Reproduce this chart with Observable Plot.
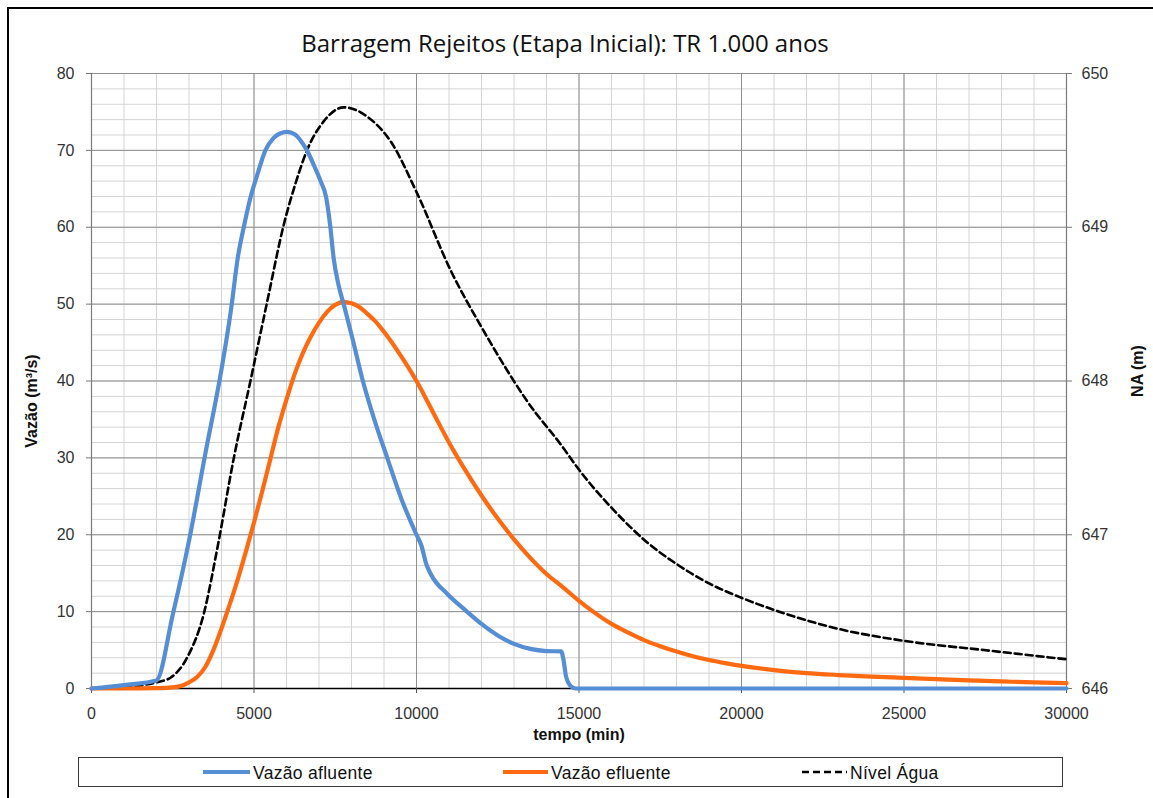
<!DOCTYPE html>
<html><head><meta charset="utf-8">
<script src="https://cdn.jsdelivr.net/npm/d3@7"></script>
<script src="https://cdn.jsdelivr.net/npm/@observablehq/plot@0.6"></script>
<style>
html,body{margin:0;padding:0;background:#fff;}
#wrap{position:relative;width:1153px;height:798px;overflow:hidden;background:#fff;}
#frame{position:absolute;left:7px;top:7px;width:1300px;height:900px;border-left:2px solid #000;border-top:2px solid #000;}
#title{position:absolute;left:0;top:31px;width:1130px;text-align:center;font-family:"Open Sans",sans-serif;font-size:24px;line-height:24px;color:#111;white-space:nowrap;}
#chart{position:absolute;left:0;top:60px;}
#legend{position:absolute;left:78px;top:757px;width:983px;height:28px;border:1.5px solid #3a3a3a;}
.lg{position:absolute;top:0;height:28px;}
.lt{position:absolute;top:5px;font-family:"Liberation Sans",Arial,sans-serif;font-size:17.5px;letter-spacing:0.3px;color:#111;white-space:nowrap;}
</style></head>
<body>
<div id="wrap">
  <div id="frame"></div>
  <div id="title">Barragem Rejeitos (Etapa Inicial): TR 1.000 anos</div>
  <div id="chart"></div>
  <div id="legend"></div>
</div>
<script>
// ---- data ----
const afluenteT = [0, 1000, 2000, 2500, 3000, 3500, 4000, 4300, 4500, 4700, 4900, 5100, 5350, 5600, 5800, 6020, 6250, 6450, 6630, 6850, 7050, 7220, 7350, 7450, 7600, 7760, 8020, 8350, 8700, 9100, 9550, 10000, 10150, 10300, 10450, 10950, 11500, 12000, 12500, 13000, 13500, 14000, 14450, 14520, 14600, 14750, 14900, 20000, 25000, 30000];
const afluenteQ = [0, 0.45, 1.05, 9.6, 19.2, 30.5, 41.5, 49.5, 56, 60.3, 64, 66.8, 70, 71.6, 72.2, 72.4, 72.1, 71.2, 70, 68, 66, 63.9, 60, 56, 52.5, 50, 45.7, 40, 35, 30, 24.5, 20, 18.6, 16.2, 14.8, 12.3, 10.2, 8.4, 6.9, 5.8, 5.15, 4.87, 4.82, 3.8, 1.6, 0.3, 0, 0, 0, 0];

const efluenteT = [0, 1000, 2000, 2500, 2800, 3000, 3250, 3500, 3750, 4000, 4250, 4500, 4750, 5000, 5250, 5500, 5750, 6000, 6250, 6500, 6750, 7000, 7250, 7500, 7750, 8000, 8250, 8500, 8750, 9000, 9500, 10000, 10500, 11000, 11500, 12000, 12500, 13000, 13500, 14000, 14500, 15000, 15500, 16000, 16500, 17000, 17500, 18000, 18500, 19000, 19500, 20000, 21000, 22000, 23000, 24000, 25000, 26000, 27000, 28000, 29000, 30000];
const efluenteQ = [0, 0, 0.05, 0.15, 0.4, 0.8, 1.5, 2.8, 5.0, 7.8, 10.9, 14.2, 17.8, 21.6, 25.6, 29.8, 34.0, 37.6, 40.9, 43.6, 45.8, 47.6, 49.0, 49.9, 50.3, 50.1, 49.6, 48.7, 47.7, 46.4, 43.4, 40.0, 36.0, 32.0, 28.4, 25.1, 22.1, 19.4, 17.0, 14.9, 13.2, 11.4, 9.8, 8.4, 7.3, 6.3, 5.5, 4.8, 4.2, 3.7, 3.3, 2.95, 2.4, 2.0, 1.75, 1.55, 1.39, 1.22, 1.05, 0.92, 0.8, 0.69];

const nivelT = [0, 1000, 2000, 2430, 2940, 3460, 3870, 4380, 4890, 5410, 5920, 6300, 6630, 7150, 7760, 8480, 9200, 10020, 11050, 12000, 12700, 13400, 14500, 14940, 16070, 17100, 18000, 18940, 20000, 21300, 22940, 25000, 27460, 30000];
const nivelNA = [646, 646.01, 646.04, 646.07, 646.2, 646.49, 646.91, 647.5, 648.0, 648.52, 649.02, 649.3, 649.5, 649.69, 649.78, 649.72, 649.56, 649.22, 648.72, 648.35, 648.1, 647.87, 647.57, 647.44, 647.16, 646.95, 646.81, 646.69, 646.59, 646.49, 646.39, 646.31, 646.25, 646.19];

const xTicks = [0, 5000, 10000, 15000, 20000, 25000, 30000];
const yTicks = [0, 10, 20, 30, 40, 50, 60, 70, 80];
const naTicks = [646, 647, 648, 649, 650];
const seriesNames = ["Vazão afluente", "Vazão efluente", "Nível Água"];
const title = "Barragem Rejeitos (Etapa Inicial): TR 1.000 anos";

// ---- helpers ----
const NA0 = 646, NAperQ = 20; // right axis 646–650 mapped onto 0–80
const afl = afluenteT.map((t, i) => ({t, q: afluenteQ[i]}));
const efl = efluenteT.map((t, i) => ({t, q: efluenteQ[i]}));
const niv = nivelT.map((t, i) => ({t, m: nivelNA[i]}));

const blue = "#558ED5", orange = "#FF6A10";
const minorX = d3.range(0, 30001, 1000), minorY = d3.range(0, 81, 2);

const chart = Plot.plot({
  width: 1153,
  height: 690,
  marginLeft: 91,
  marginRight: 87,
  marginTop: 13,
  marginBottom: 62,
  style: {fontFamily: "Liberation Sans, Arial, sans-serif", fontSize: "16px", background: "transparent", overflow: "visible"},
  x: {domain: [0, 30000]},
  y: {domain: [0, 80]},
  marks: [
    Plot.ruleX(minorX, {stroke: "#d4d4d4", strokeWidth: 1}),
    Plot.ruleY(minorY, {stroke: "#d4d4d4", strokeWidth: 1}),
    Plot.ruleX(xTicks, {stroke: "#8f8f8f", strokeWidth: 1}),
    Plot.ruleY(yTicks, {stroke: "#8f8f8f", strokeWidth: 1}),
    Plot.ruleX([0, 30000], {stroke: "#7a7a7a", strokeWidth: 1.2}),
    Plot.ruleY([0], {stroke: "#000", strokeWidth: 1.3}),
    Plot.axisX({ticks: xTicks, tickSize: 5, tickPadding: 14, tickFormat: d => String(d), stroke: "#555", fill: "#333", label: null}),
    Plot.axisY({ticks: yTicks, tickSize: 5, tickPadding: 12, tickFormat: d => String(d), stroke: "#777", fill: "#333", label: null}),
    Plot.axisY({anchor: "right", ticks: naTicks.map(v => (v - NA0) * NAperQ), tickSize: 5, tickPadding: 10, tickFormat: d => String(NA0 + d / NAperQ), stroke: "#777", fill: "#333", label: null}),
    Plot.line(niv, {x: "t", y: d => (d.m - NA0) * NAperQ, stroke: "#000", strokeWidth: 2.6, strokeDasharray: "7,4", curve: "monotone-x"}),
    Plot.line(efl, {x: "t", y: "q", stroke: orange, strokeWidth: 4.2, curve: "monotone-x"}),
    Plot.line(afl, {x: "t", y: "q", stroke: blue, strokeWidth: 4.2, curve: "monotone-x"}),
    Plot.text(["tempo (min)"], {frameAnchor: "bottom", dy: 51, text: d => d, textAnchor: "middle", fontWeight: "bold", fontSize: 16, fill: "#111", letterSpacing: "0.5px"}),
    Plot.text(["Vazão (m³/s)"], {frameAnchor: "left", dx: -60, dy: 20, rotate: -90, text: d => d, textAnchor: "middle", fontWeight: "bold", fontSize: 16, fill: "#111", letterSpacing: "0.6px"}),
    Plot.text(["NA (m)"], {frameAnchor: "right", dx: 71, dy: -10, rotate: -90, text: d => d, textAnchor: "middle", fontWeight: "bold", fontSize: 16, fill: "#111", letterSpacing: "0.6px"})
  ]
});
document.getElementById("chart").appendChild(chart);
document.getElementById("title").textContent = title;

// ---- legend ----
const legend = document.getElementById("legend");
const items = [
  {name: seriesNames[0], x0: 124, x1: 171, color: blue, w: 4.2, dash: null},
  {name: seriesNames[1], x0: 424, x1: 469, color: orange, w: 4.2, dash: null},
  {name: seriesNames[2], x0: 723, x1: 768, color: "#000", w: 2.6, dash: "7,4"}
];
items.forEach(it => {
  const s = d3.create("svg").attr("class", "lg").attr("width", it.x1 - it.x0 + 2).attr("height", 28)
    .style("left", (it.x0 - 1) + "px");
  s.append("line").attr("x1", 1).attr("x2", it.x1 - it.x0 + 1).attr("y1", 14).attr("y2", 14)
    .attr("stroke", it.color).attr("stroke-width", it.w).attr("stroke-dasharray", it.dash);
  legend.appendChild(s.node());
  const sp = document.createElement("span");
  sp.className = "lt"; sp.textContent = it.name; sp.style.left = (it.x1 + 3) + "px";
  legend.appendChild(sp);
});
</script>
</body></html>
